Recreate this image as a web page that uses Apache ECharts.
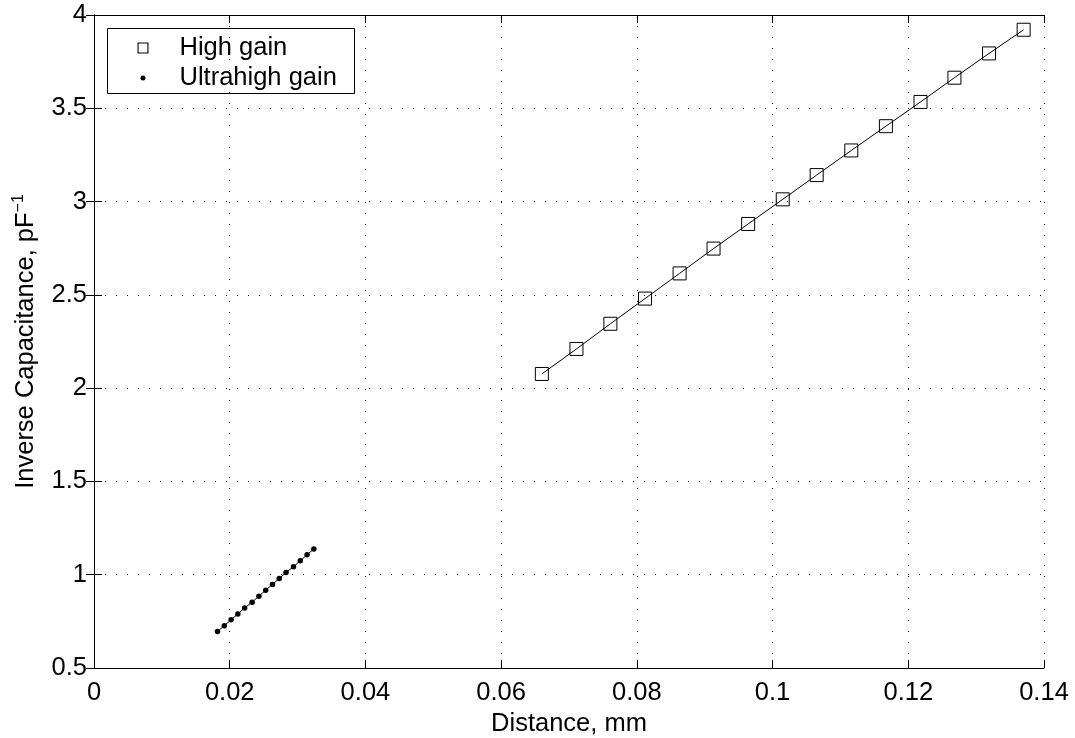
<!DOCTYPE html>
<html>
<head>
<meta charset="utf-8">
<script src="https://cdn.jsdelivr.net/npm/echarts@6/dist/echarts.min.js"></script>
<style>
html,body{margin:0;padding:0;background:#fff;}
#chart{width:1075px;height:738px;}
</style>
</head>
<body>
<div id="chart"></div>
<script>
// Data
const highGainX = [0.0660, 0.0711, 0.0761, 0.0812, 0.0863, 0.0913, 0.0964, 0.1015, 0.1065, 0.1116, 0.1167, 0.1218, 0.1268, 0.1319, 0.1370];
const highGainY = [2.076, 2.210, 2.345, 2.480, 2.615, 2.748, 2.880, 3.012, 3.142, 3.274, 3.404, 3.534, 3.664, 3.794, 3.921];
const ultraX = [0.0182, 0.0192, 0.0202, 0.0212, 0.0222, 0.0233, 0.0243, 0.0253, 0.0263, 0.0273, 0.0283, 0.0294, 0.0304, 0.0314, 0.0324];
const ultraY = [0.695, 0.727, 0.758, 0.790, 0.822, 0.853, 0.885, 0.917, 0.948, 0.980, 1.012, 1.043, 1.075, 1.107, 1.138];
const seriesNames = ['High gain', 'Ultrahigh gain'];
const xTicks = [0, 0.02, 0.04, 0.06, 0.08, 0.1, 0.12, 0.14];
const yTicks = [0.5, 1, 1.5, 2, 2.5, 3, 3.5, 4];
const xLabel = 'Distance, mm';
const yLabel = 'Inverse Capacitance, pF';

const FONT = '"Liberation Sans", Arial, Helvetica, sans-serif';
const FS = 25.5;
const zip = (a, b) => a.map((v, i) => [v, b[i]]);

const chart = echarts.init(document.getElementById('chart'), null, {renderer: 'canvas'});

const gridLine = {show: true, lineStyle: {color: '#000', width: 1, type: [1, 10]}};
const tickIn = {show: true, inside: true, length: 8, lineStyle: {color: '#000', width: 1}};
const axLine = {show: true, lineStyle: {color: '#000', width: 1}};

const option = {
  animation: false,
  backgroundColor: '#fff',
  textStyle: {fontFamily: FONT},
  grid: {left: 94, right: 31, top: 15, bottom: 70, containLabel: false, outerBoundsMode: 'none'},
  xAxis: [{
    type: 'value', min: xTicks[0], max: xTicks[xTicks.length - 1], interval: 0.02,
    position: 'bottom',
    axisLine: axLine, axisTick: tickIn, splitLine: gridLine,
    axisLabel: {color: '#000', fontSize: FS, fontFamily: FONT, margin: 12},
    name: xLabel, nameLocation: 'middle', nameGap: 42,
    nameTextStyle: {color: '#000', fontSize: FS, fontFamily: FONT}
  }, {
    type: 'value', min: xTicks[0], max: xTicks[xTicks.length - 1], interval: 0.02,
    position: 'top',
    axisLine: axLine, axisTick: tickIn, splitLine: {show: false},
    axisLabel: {show: false}
  }],
  yAxis: [{
    type: 'value', min: yTicks[0], max: yTicks[yTicks.length - 1], interval: 0.5,
    position: 'left',
    axisLine: axLine, axisTick: tickIn, splitLine: gridLine,
    axisLabel: {color: '#000', fontSize: FS, fontFamily: FONT, margin: 7},
    name: '{a|' + yLabel + '}{s|−1}', nameLocation: 'middle', nameGap: 45,
    nameRotate: 90,
    nameTextStyle: {
      color: '#000', fontFamily: FONT,
      rich: {
        a: {fontSize: FS, fontFamily: FONT, color: '#000', lineHeight: 30},
        s: {fontSize: 16, fontFamily: FONT, color: '#000', verticalAlign: 'top', lineHeight: 30, padding: [0, 0, 14, 0]}
      }
    }
  }, {
    type: 'value', min: yTicks[0], max: yTicks[yTicks.length - 1], interval: 0.5,
    position: 'right',
    axisLine: axLine, axisTick: tickIn, splitLine: {show: false},
    axisLabel: {show: false}
  }],
  legend: [{
    left: 137.5, top: 35, orient: 'vertical',
    itemWidth: 11, itemHeight: 11, padding: 0,
    data: [{name: seriesNames[0], icon: 'path://M0,0H10V10H0Z M1,1V9H9V1Z', itemStyle: {color: '#000', borderWidth: 0}}],
    textStyle: {color: '#000', fontSize: FS, fontFamily: FONT, padding: [0, 0, 0, 26]}
  }, {
    left: 140.5, top: 65, orient: 'vertical',
    itemWidth: 5, itemHeight: 5, padding: 0,
    data: [{name: seriesNames[1], icon: 'circle', itemStyle: {color: '#000'}}],
    textStyle: {color: '#000', fontSize: FS, fontFamily: FONT, padding: [0, 0, 0, 29]}
  }],
  graphic: [{
    type: 'rect', left: 107, top: 28, z: 0,
    shape: {width: 247, height: 65},
    style: {fill: '#fff', stroke: '#000', lineWidth: 1}
  }],
  series: [{
    name: seriesNames[0], type: 'line',
    data: zip(highGainX, highGainY),
    symbol: 'rect', symbolSize: 13,
    lineStyle: {color: '#000', width: 1},
    itemStyle: {color: 'rgba(0,0,0,0)', borderColor: '#000', borderWidth: 1},
    emphasis: {disabled: true}, z: 3
  }, {
    name: seriesNames[1], type: 'line',
    data: zip(ultraX, ultraY),
    symbol: 'circle', symbolSize: 5.5,
    lineStyle: {color: '#000', width: 1},
    itemStyle: {color: '#000', borderWidth: 0},
    emphasis: {disabled: true}, z: 3
  }]
};
chart.setOption(option);
</script>
</body>
</html>
